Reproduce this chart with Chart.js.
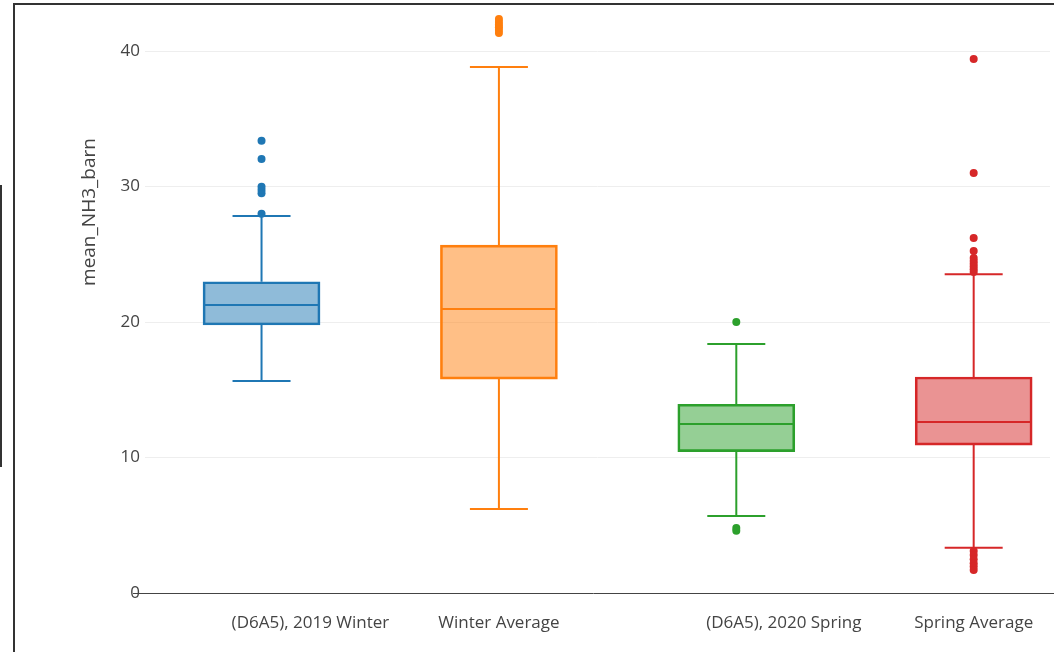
<!DOCTYPE html>
<html>
<head>
<meta charset="utf-8">
<script src="https://cdn.jsdelivr.net/npm/chart.js@4.4.1/dist/chart.umd.min.js"></script>
<style>
  html, body { margin: 0; padding: 0; background: #fff; }
  #wrap { position: relative; width: 1054px; height: 652px; overflow: hidden; }
  #frame { position: absolute; left: 13px; top: 3px; right: -5px; bottom: -5px;
           border-left: 2px solid #333; border-top: 2px solid #333; pointer-events: none; }
  #edge { position: absolute; left: 0; top: 185px; width: 2px; height: 282px; background: #333; }
</style>
</head>
<body>
<div id="wrap">
  <canvas id="boxChart" width="1054" height="652"></canvas>
  <div id="frame"></div>
  <div id="edge"></div>
</div>
<script>
// categories and box statistics
const categories = ['(D6A5), 2019 Winter', 'Winter Average', '(D6A5), 2020 Spring', 'Spring Average'];
const tickPos = [0.206, 1, 2.2, 3];
const yTicks = [0, 10, 20, 30, 40];
const lowerFence = [15.65, 6.2, 5.68, 3.34];
const q1 = [19.78, 15.79, 10.43, 10.92];
const median = [21.25, 20.96, 12.47, 12.62];
const q3 = [22.97, 25.68, 13.93, 15.94];
const upperFence = [27.82, 38.82, 18.38, 23.52];
const outliers = [
  [28.0, 29.5, 29.75, 29.98, 32.03, 33.38],
  [41.33, 41.55, 41.75, 41.95, 42.15, 42.36],
  [20.0, 4.8, 4.6],
  [39.41, 31.0, 26.2, 25.24, 24.72, 24.5, 24.3, 24.1, 23.9, 23.7, 3.1, 2.8, 2.5, 2.2, 1.95, 1.7]
];
const colors = ['#1f77b4', '#ff7f0e', '#2ca02c', '#d62728'];
const fills = ['rgba(31,119,180,0.5)', 'rgba(255,127,14,0.5)', 'rgba(44,160,44,0.5)', 'rgba(214,39,40,0.5)'];

const capWidth = 58;
const boxWidth = 117;

// whiskers, caps, zero line, medians, axis title
const boxExtras = {
  id: 'boxExtras',
  beforeDatasetsDraw(chart) {
    const ctx = chart.ctx, x = chart.scales.x, y = chart.scales.y;
    ctx.save();
    ctx.strokeStyle = '#444';
    ctx.lineWidth = 1;
    const y0 = Math.round(y.getPixelForValue(0)) + 0.5;
    ctx.beginPath();
    ctx.moveTo(133, y0);
    ctx.lineTo(chart.width, y0);
    ctx.stroke();
    ctx.lineWidth = 2;
    for (let i = 0; i < categories.length; i++) {
      const cx = x.getPixelForValue(i);
      ctx.strokeStyle = colors[i];
      ctx.beginPath();
      ctx.moveTo(cx, y.getPixelForValue(q3[i]));
      ctx.lineTo(cx, y.getPixelForValue(upperFence[i]));
      ctx.moveTo(cx, y.getPixelForValue(q1[i]));
      ctx.lineTo(cx, y.getPixelForValue(lowerFence[i]));
      ctx.moveTo(cx - capWidth / 2, y.getPixelForValue(upperFence[i]));
      ctx.lineTo(cx + capWidth / 2, y.getPixelForValue(upperFence[i]));
      ctx.moveTo(cx - capWidth / 2, y.getPixelForValue(lowerFence[i]));
      ctx.lineTo(cx + capWidth / 2, y.getPixelForValue(lowerFence[i]));
      ctx.stroke();
    }
    ctx.restore();
  },
  afterDatasetDraw(chart, args) {
    if (args.meta.type !== 'bar') return;
    const ctx = chart.ctx, x = chart.scales.x, y = chart.scales.y;
    ctx.save();
    ctx.lineWidth = 2;
    for (let i = 0; i < categories.length; i++) {
      const cx = x.getPixelForValue(i);
      const my = Math.round(y.getPixelForValue(median[i]));
      ctx.strokeStyle = colors[i];
      ctx.beginPath();
      ctx.moveTo(cx - boxWidth / 2 + 1, my);
      ctx.lineTo(cx + boxWidth / 2 - 1, my);
      ctx.stroke();
    }
    ctx.restore();
  },
  afterDraw(chart) {
    const ctx = chart.ctx;
    ctx.save();
    ctx.translate(90, 212);
    ctx.rotate(-Math.PI / 2);
    ctx.fillStyle = '#444';
    ctx.font = '19px "Open Sans"';
    ctx.textAlign = 'center';
    ctx.textBaseline = 'middle';
    ctx.fillText('mean_NH3_barn', 0, 0);
    ctx.restore();
  }
};

const datasets = outliers.map((vals, i) => ({
  type: 'line',
  showLine: false,
  order: 1,
  data: vals.map(v => ({ x: i, y: v })),
  pointRadius: 4,
  pointBorderWidth: 0,
  pointBackgroundColor: colors[i],
  borderColor: colors[i]
}));
datasets.push({
  type: 'bar',
  order: 2,
  data: categories.map((c, i) => ({ x: i, y: [q1[i], q3[i]] })),
  backgroundColor: fills,
  borderColor: colors,
  borderWidth: 2,
  borderSkipped: false,
  barThickness: boxWidth
});

new Chart(document.getElementById('boxChart'), {
  type: 'bar',
  data: { datasets: datasets },
  options: {
    responsive: false,
    animation: false,
    events: [],
    layout: { padding: { top: 5, left: 0, right: 0, bottom: 0 } },
    plugins: { legend: { display: false }, tooltip: { enabled: false } },
    scales: {
      x: {
        type: 'linear',
        offset: false,
        min: -0.4909,
        max: 3.3215,
        grid: { display: false, drawTicks: false },
        border: { display: false },
        afterBuildTicks: s => { s.ticks = tickPos.map(v => ({ value: v })); },
        afterFit: s => { s.height = 59; s.paddingLeft = 0; s.paddingRight = 0; },
        ticks: {
          autoSkip: false,
          maxRotation: 0,
          padding: 20,
          color: '#444',
          font: { family: 'Open Sans', size: 17 },
          callback: (v, i) => categories[i]
        }
      },
      y: {
        min: 0,
        max: 43.4,
        grid: {
          drawTicks: false,
          color: c => c.tick && c.tick.value === 0 ? 'rgba(0,0,0,0)' : '#eeeeee',
          lineWidth: 1
        },
        border: { display: false },
        afterBuildTicks: s => { s.ticks = yTicks.map(v => ({ value: v })); },
        afterFit: s => { s.width = 145; s.paddingTop = 0; s.paddingBottom = 0; },
        ticks: {
          padding: 5,
          color: '#444',
          font: { family: 'Open Sans', size: 17 }
        }
      }
    }
  },
  plugins: [boxExtras]
});
</script>
</body>
</html>
